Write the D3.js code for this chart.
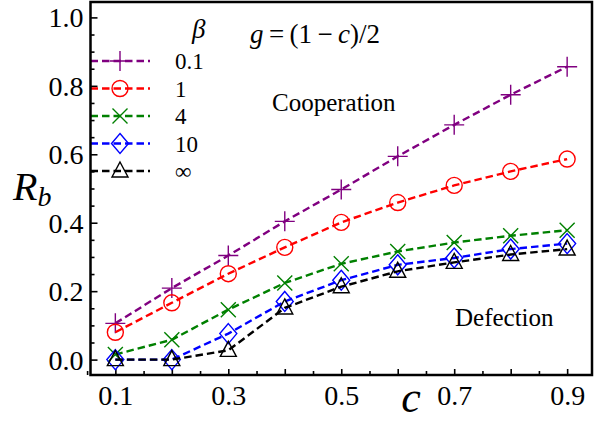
<!DOCTYPE html>
<html>
<head>
<meta charset="utf-8">
<script src="https://cdn.jsdelivr.net/npm/d3@7"></script>
<style>
  body { margin: 0; background: #fff; }
  svg, svg text { font-family: 'Liberation Serif', 'Times New Roman', Times, 'DejaVu Serif', serif; }
</style>
</head>
<body>
<div id="chart"></div>
<script>
const chart_width = 603;
const chart_height = 422;
const serif = "'Liberation Serif', 'Times New Roman', Times, 'DejaVu Serif', serif";

// data
const c_values = [0.1, 0.2, 0.3, 0.4, 0.5, 0.6, 0.7, 0.8, 0.9];
const beta_labels = ['0.1', '1', '4', '10', '\u221e'];
const rb_beta_01 = [0.106, 0.209, 0.304, 0.404, 0.497, 0.594, 0.686, 0.774, 0.856];
const rb_beta_1 = [0.080, 0.166, 0.251, 0.328, 0.401, 0.459, 0.509, 0.550, 0.586];
const rb_beta_4 = [0.015, 0.058, 0.146, 0.224, 0.280, 0.316, 0.342, 0.362, 0.378];
const rb_beta_10 = [0.000, 0.000, 0.076, 0.170, 0.232, 0.277, 0.297, 0.323, 0.339];
const rb_beta_inf = [0.000, 0.000, 0.027, 0.151, 0.213, 0.258, 0.284, 0.307, 0.323];
const y_tick_values = [0.0, 0.2, 0.4, 0.6, 0.8, 1.0];
const x_tick_labels = [0.1, 0.3, 0.5, 0.7, 0.9];

const series = [
    { label: beta_labels[0], values: rb_beta_01, color: '#800080', marker: 'plus' },
    { label: beta_labels[1], values: rb_beta_1, color: '#ff0000', marker: 'circle' },
    { label: beta_labels[2], values: rb_beta_4, color: '#008000', marker: 'cross' },
    { label: beta_labels[3], values: rb_beta_10, color: '#0000ff', marker: 'diamond' },
    { label: beta_labels[4], values: rb_beta_inf, color: '#000000', marker: 'triangle' }
];

const plot = { left: 90.5, right: 592, top: 2, bottom: 375 };

const svg = d3.select('#chart')
    .append('svg')
    .attr('width', chart_width)
    .attr('height', chart_height)
    .attr('font-family', serif);

//--------------------------------------------------------------------
// scales
const x_scale = d3.scaleLinear()
    .domain([0.056, 0.944])
    .range([plot.left, plot.right]);

const y_scale = d3.scaleLinear()
    .domain([-0.045, 1.045])
    .range([plot.bottom, plot.top]);

//--------------------------------------------------------------------
// axes (ticks point inward, like the original)
const x_major = d3.range(1, 10).map(d => d / 10);
const x_minor = d3.range(1, 19).map(d => d / 20).filter(d => Math.round(d * 20) % 2 === 1);
const y_minor = d3.range(0, 21).map(d => d / 20).filter(d => !y_tick_values.some(t => Math.abs(t - d) < 1e-6));

function styleAxis(g) {
    g.attr('font-family', serif);
    g.select('.domain').remove();
    g.selectAll('.tick line').attr('stroke', '#000').attr('stroke-width', 1.6);
}

svg.append('g')
    .attr('transform', 'translate(0,' + plot.bottom + ')')
    .call(d3.axisBottom(x_scale).tickValues(x_minor).tickSize(-4).tickFormat(''))
    .call(styleAxis);

svg.append('g')
    .attr('class', 'x-axis')
    .attr('transform', 'translate(0,' + plot.bottom + ')')
    .call(d3.axisBottom(x_scale)
        .tickValues(x_major)
        .tickSize(-6)
        .tickPadding(8)
        .tickFormat(d => x_tick_labels.some(t => Math.abs(t - d) < 1e-6) ? d3.format('.1f')(d) : ''))
    .call(styleAxis)
    .call(g => g.selectAll('text')
        .attr('font-size', 28)
        .attr('fill', '#000')
        .attr('dy', '0.78em'));

svg.append('g')
    .attr('transform', 'translate(' + plot.left + ',0)')
    .call(d3.axisLeft(y_scale).tickValues(y_minor).tickSize(-4).tickFormat(''))
    .call(styleAxis);

svg.append('g')
    .attr('class', 'y-axis')
    .attr('transform', 'translate(' + plot.left + ',0)')
    .call(d3.axisLeft(y_scale)
        .tickValues(y_tick_values)
        .tickSize(-7)
        .tickPadding(7)
        .tickFormat(d3.format('.1f')))
    .call(styleAxis)
    .call(g => g.selectAll('text')
        .attr('font-size', 28)
        .attr('fill', '#000')
        .attr('dy', '0.34em'));

//--------------------------------------------------------------------
// markers
const marker_paths = {
    plus: 'M-10,0H10M0,-10V10',
    circle: d3.symbol(d3.symbolCircle, Math.PI * 8 * 8)(),
    cross: 'M-7.5,-7.5L7.5,7.5M-7.5,7.5L7.5,-7.5',
    diamond: 'M0,-10L8.5,0L0,10L-8.5,0Z',
    triangle: 'M0,-9L8,6L-8,6Z'
};

function drawMarker(g, s, x, y) {
    g.append('path')
        .attr('d', marker_paths[s.marker])
        .attr('transform', 'translate(' + x + ',' + y + ')')
        .attr('fill', 'none')
        .attr('stroke', s.color)
        .attr('stroke-width', 1.4);
}

const line = d3.line()
    .x((d, i) => x_scale(c_values[i]))
    .y(d => y_scale(d));

const plot_area = svg.append('g');

series.forEach(s => {
    const g = plot_area.append('g');
    g.append('path')
        .datum(s.values)
        .attr('d', line)
        .attr('fill', 'none')
        .attr('stroke', s.color)
        .attr('stroke-width', 2.4)
        .attr('stroke-dasharray', '7.5,4');
    s.values.forEach((v, i) => drawMarker(g, s, x_scale(c_values[i]), y_scale(v)));
});

//--------------------------------------------------------------------
// legend
const legend = svg.append('g');
const legend_top = 61;
const legend_step = 27.5;

series.forEach((s, i) => {
    const y = legend_top + i * legend_step;
    legend.append('line')
        .attr('x1', plot.left)
        .attr('x2', 150)
        .attr('y1', y)
        .attr('y2', y)
        .attr('stroke', s.color)
        .attr('stroke-width', 2.4)
        .attr('stroke-dasharray', '7.5,4');
    drawMarker(legend, s, 120, y);
    legend.append('text')
        .attr('x', 175)
        .attr('y', y)
        .attr('dy', '0.35em')
        .attr('font-size', 23)
        .text(s.label);
});

legend.append('text')
    .attr('x', 192)
    .attr('y', 38)
    .attr('font-size', 27)
    .attr('font-style', 'italic')
    .text('\u03b2');

//--------------------------------------------------------------------
// annotations
const formula = svg.append('text')
    .attr('x', 250)
    .attr('y', 43)
    .attr('font-size', 27);
formula.append('tspan').attr('font-style', 'italic').text('g');
formula.append('tspan').text('\u2009=\u2009(1\u2009\u2212\u2009');
formula.append('tspan').attr('font-style', 'italic').text('c');
formula.append('tspan').text(')/2');

svg.append('text')
    .attr('x', 272)
    .attr('y', 111)
    .attr('font-size', 25)
    .text('Cooperation');

svg.append('text')
    .attr('x', 455)
    .attr('y', 326)
    .attr('font-size', 25)
    .text('Defection');

// axis titles
const y_title = svg.append('text')
    .attr('x', 13)
    .attr('y', 200)
    .attr('font-size', 40)
    .attr('font-style', 'italic');
y_title.append('tspan').text('R');
y_title.append('tspan').attr('font-size', 28).attr('dy', 6).text('b');

svg.append('text')
    .attr('x', 411)
    .attr('y', 412)
    .attr('text-anchor', 'middle')
    .attr('font-size', 44)
    .attr('font-style', 'italic')
    .text('c');

// frame
svg.append('rect')
    .attr('x', plot.left)
    .attr('y', plot.top)
    .attr('width', plot.right - plot.left)
    .attr('height', plot.bottom - plot.top)
    .attr('fill', 'none')
    .attr('stroke', '#000')
    .attr('stroke-width', 2.5);
</script>
</body>
</html>
